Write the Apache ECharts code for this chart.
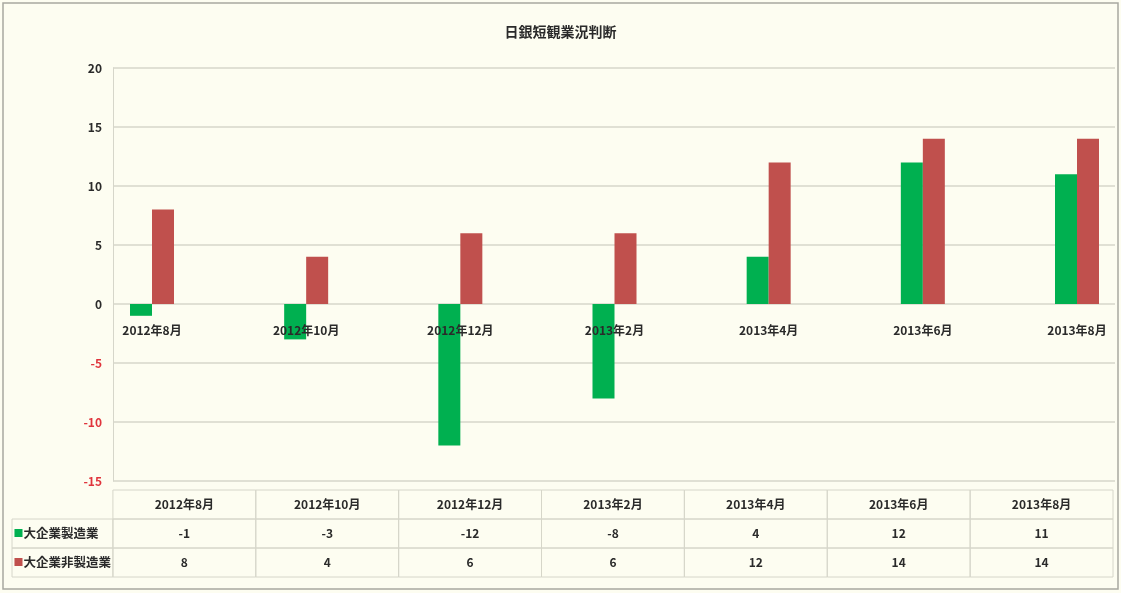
<!DOCTYPE html>
<html>
<head>
<meta charset="utf-8">
<script src="https://cdn.jsdelivr.net/npm/echarts@6/dist/echarts.min.js"></script>
<style>
  html, body { margin: 0; padding: 0; background: #fdfdf1; }
  #chart { width: 1121px; height: 593px; }
</style>
</head>
<body>
<div id="chart"></div>
<script>
// 日銀短観 業況判断DI（大企業）
const categories = ['2012年8月', '2012年10月', '2012年12月', '2013年2月', '2013年4月', '2013年6月', '2013年8月'];
const seriesNames = ['大企業製造業', '大企業非製造業'];
const manufacturing = [-1, -3, -12, -8, 4, 12, 11];
const nonManufacturing = [8, 4, 6, 6, 12, 14, 14];
const yMin = -15, yMax = 20, yStep = 5;

const seriesValues = [manufacturing, nonManufacturing];
const seriesColors = ['#00b050', '#c0504d'];
const FONT = '"Noto Sans CJK JP", "Noto Sans", sans-serif';
const TEXT = '#2a2a2a';
const NEG = '#e0343c';
const RULE = '#d6d6ca';

// plot box shared by the gridline grid and the bar grid
const PLOT_TOP = 68, PLOT_BOTTOM = 112, CHART_H = 593;
const plotHeight = CHART_H - PLOT_TOP - PLOT_BOTTOM;
// category labels hang from the zero line rather than the plot bottom
const zeroOffset = -plotHeight * (0 - yMin) / (yMax - yMin);

// data table below the plot: columns are category slots [i, i+1],
// the row-name column sits left of 0, rows are [0..3] top to bottom
const LABEL_START = -101 / 143;
const cells = [];
categories.forEach((c, i) => cells.push({ value: [i, i + 1, 0, 1], text: c, align: 'center' }));
seriesValues.forEach((vals, r) => {
  cells.push({ value: [LABEL_START, 0, r + 1, r + 2], text: seriesNames[r], color: seriesColors[r], align: 'left' });
  vals.forEach((v, i) => cells.push({ value: [i, i + 1, r + 1, r + 2], text: String(v), align: 'center' }));
});

function renderCell(params, api) {
  const cell = cells[params.dataIndex];
  const a = api.coord([api.value(0), api.value(2)]);
  const b = api.coord([api.value(1), api.value(3)]);
  const x = Math.min(a[0], b[0]), y = Math.min(a[1], b[1]);
  const w = Math.abs(b[0] - a[0]), h = Math.abs(b[1] - a[1]);
  const isLabel = cell.align === 'left';
  return {
    type: 'rect',
    shape: { x: x, y: y, width: w, height: h },
    style: { fill: 'transparent', stroke: RULE, lineWidth: 1 },
    textContent: {
      style: isLabel ? {
        text: '{sq|■}{t|' + cell.text + '}',
        rich: {
          sq: { fill: cell.color, fontSize: 10, fontFamily: FONT },
          t: { fill: TEXT, fontSize: 12.5, fontWeight: 'bold', fontFamily: FONT }
        }
      } : {
        text: cell.text, fill: TEXT, fontSize: 12, fontWeight: 'bold', fontFamily: FONT
      }
    },
    textConfig: { position: isLabel ? 'insideLeft' : 'inside', distance: 2 }
  };
}

const chart = echarts.init(document.getElementById('chart'));
chart.setOption({
  backgroundColor: '#fdfdf1',
  animation: false,
  textStyle: { fontFamily: FONT },
  title: {
    text: '日銀短観業況判断',
    left: 'center',
    top: 20,
    textStyle: { fontSize: 14, fontWeight: 'bold', color: TEXT, fontFamily: FONT }
  },
  graphic: [{
    type: 'rect',
    shape: { x: 3, y: 3, width: 1115, height: 586 },
    style: { fill: 'transparent', stroke: '#a8a8a0', lineWidth: 1.5 },
    silent: true
  }],
  grid: [
    { left: 113, right: 6, top: PLOT_TOP, bottom: PLOT_BOTTOM },   // gridlines + value axis
    { left: 152, width: 925, top: PLOT_TOP, bottom: PLOT_BOTTOM },  // bar groups
    { left: 12, right: 8, top: 490, bottom: 16 }                    // data table
  ],
  xAxis: [
    { gridIndex: 0, type: 'category', data: categories, show: false },
    {
      gridIndex: 1, type: 'category', data: categories, boundaryGap: false, z: 10,
      offset: zeroOffset,
      axisLine: { show: false, onZero: false },
      axisTick: { show: false },
      axisLabel: { margin: 20, color: TEXT, fontSize: 12, fontWeight: 'bold', fontFamily: FONT, interval: 0 }
    },
    { gridIndex: 2, type: 'value', min: LABEL_START, max: categories.length, show: false }
  ],
  yAxis: [
    {
      gridIndex: 0, type: 'value', min: yMin, max: yMax, interval: yStep,
      axisLine: { show: true, lineStyle: { color: RULE } },
      axisTick: { show: false },
      splitLine: { show: true, lineStyle: { color: RULE, width: 1.5 } },
      axisLabel: {
        margin: 11, fontSize: 12, fontWeight: 'bold', fontFamily: FONT,
        color: v => (v < 0 ? NEG : TEXT)
      }
    },
    { gridIndex: 1, type: 'value', min: yMin, max: yMax, interval: yStep, show: false },
    { gridIndex: 2, type: 'value', min: 0, max: 3, inverse: true, show: false }
  ],
  series: [
    {
      name: seriesNames[0], type: 'bar', xAxisIndex: 1, yAxisIndex: 1,
      data: manufacturing, barWidth: 22, barGap: '0%',
      itemStyle: { color: seriesColors[0] }
    },
    {
      name: seriesNames[1], type: 'bar', xAxisIndex: 1, yAxisIndex: 1,
      data: nonManufacturing, barWidth: 22, barGap: '0%',
      itemStyle: { color: seriesColors[1] }
    },
    {
      type: 'custom', xAxisIndex: 2, yAxisIndex: 2,
      renderItem: renderCell,
      data: cells.map(c => c.value),
      silent: true
    }
  ]
});
</script>
</body>
</html>
